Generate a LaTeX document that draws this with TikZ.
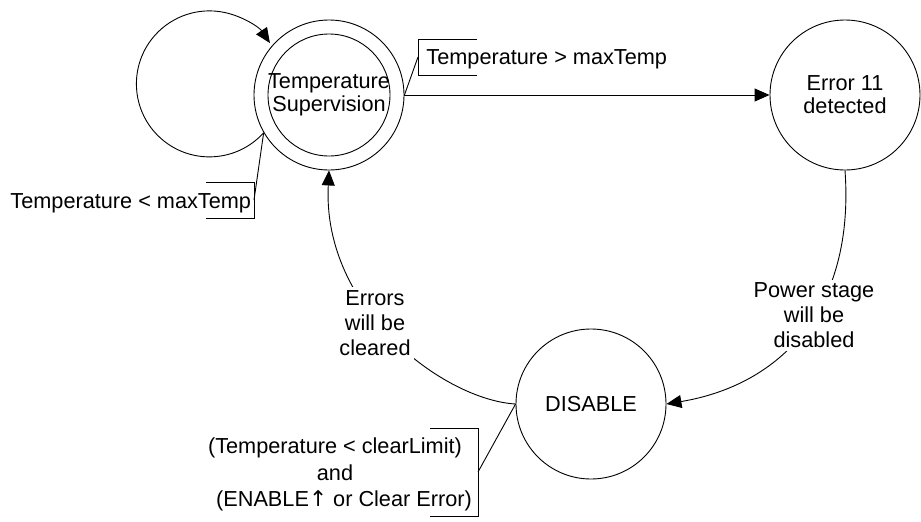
\documentclass[tikz,border=0pt]{standalone}
\usepackage{fontspec}
\setmainfont{Liberation Sans}
\newfontfamily\arrowfont{DejaVu Sans}
\usetikzlibrary{arrows.meta}
\begin{document}
\begin{tikzpicture}[x=1pt,y=-1pt,
  line width=0.9pt,
  state/.style={circle, draw, minimum size=150pt, inner sep=0pt, align=center,
    font=\fontsize{21.7}{23}\selectfont},
  txt/.style={inner sep=0pt, align=center, font=\fontsize{21.7}{25}\selectfont},
  cover/.style={txt, fill=white, inner sep=3pt},
  brk/.style={inner sep=0pt, outer sep=0pt},
  arr/.style={-{Triangle[length=15pt,width=13pt]}}
]
\useasboundingbox (0,0) rectangle (921,522);

% states
\node[state] (ts) at (329,95) {Temperature\\Supervision};
\draw (ts.center) circle[radius=61];
\node[state] (err) at (845,95) {Error 11\\detected};
\node[state] (dis) at (591,404) {DISABLE};

% transitions
\draw[arr] (ts.east) -- (err.west);
\draw[arr] (ts.210) arc[start angle=42, end angle=326, radius=73];
\draw[arr] (err.south) .. controls (855,310) and (780,385) .. (dis.east);
\draw[arr] (dis.west) .. controls (445,400) and (322,310) .. (ts.south);

% actions written over the curved transitions
\node[cover] (lp) at (814,315.5) {Power stage\\will be\\disabled};
\node[cover] (le) at (375,323) {Errors\\will be\\cleared};

% conditions with bracket callouts
\node[brk, minimum width=59pt, minimum height=36pt, anchor=west] (b1) at (418,57) {};
\draw (b1.north east) -- (b1.north west) -- (b1.south west) -- (b1.south east);
\draw (ts.east) -- (b1.west);
\node[txt, anchor=base west] (c1) at (426,64) {Temperature > maxTemp};

\node[brk, minimum width=48pt, minimum height=36pt, anchor=east] (b2) at (254,200) {};
\draw (b2.north west) -- (b2.north east) -- (b2.south east) -- (b2.south west);
\draw (ts.210) -- (b2.east);
\node[txt, anchor=base west] (c2) at (10,208) {Temperature < maxTemp};

\node[brk, minimum width=48pt, minimum height=88pt, anchor=east] (b3) at (478,472) {};
\draw (b3.north west) -- (b3.north east) -- (b3.south east) -- (b3.south west);
\draw (dis.west) -- (b3.east);
\node[txt, font=\fontsize{21.7}{26.5}\selectfont] (c3) at (335,474.5)
  {(Temperature < clearLimit)\\and\\\hspace*{18pt}(ENABLE{\arrowfont ↑} or Clear Error)};
\end{tikzpicture}
\end{document}
